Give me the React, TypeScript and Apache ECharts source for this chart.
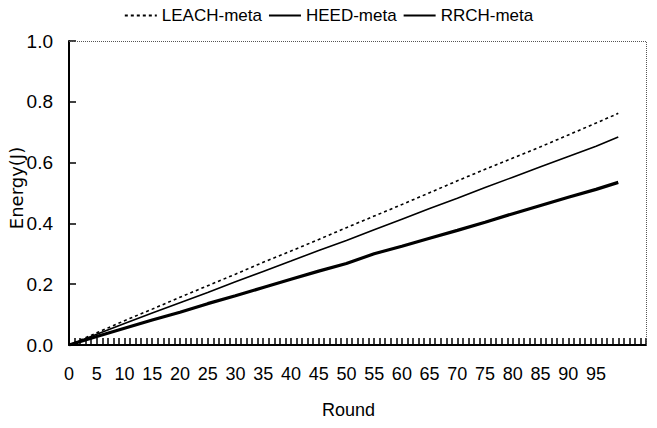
import React, { useEffect, useRef } from "react";
import * as echarts from "echarts";

const rounds = [0, 5, 10, 15, 20, 25, 30, 35, 40, 45, 50, 55, 60, 65, 70, 75, 80, 85, 90, 95, 99];
const leach = [0, 0.040, 0.080, 0.118, 0.157, 0.195, 0.233, 0.272, 0.309, 0.347, 0.386, 0.424, 0.462, 0.501, 0.540, 0.578, 0.615, 0.652, 0.691, 0.730, 0.762];
const heed = [0, 0.035, 0.071, 0.105, 0.139, 0.173, 0.208, 0.242, 0.276, 0.311, 0.344, 0.379, 0.414, 0.449, 0.483, 0.518, 0.552, 0.586, 0.620, 0.654, 0.684];
const rrch = [0, 0.028, 0.055, 0.082, 0.108, 0.136, 0.162, 0.189, 0.216, 0.243, 0.268, 0.300, 0.325, 0.351, 0.377, 0.404, 0.432, 0.459, 0.486, 0.512, 0.535];
const xTickLabels = [0, 5, 10, 15, 20, 25, 30, 35, 40, 45, 50, 55, 60, 65, 70, 75, 80, 85, 90, 95];
const yTicks = [0, 0.2, 0.4, 0.6, 0.8, 1.0];
const X_MAX = 104;
const Y_MAX = 1;

const FONT = "'Liberation Sans Narrow', 'Liberation Sans', Arial, sans-serif";

export default function App() {
  const ref = useRef<HTMLDivElement>(null);
  useEffect(() => {
    const chart = echarts.init(ref.current!, null, { renderer: "svg" });
    const pairs = (vals: number[]) => rounds.map((r, i) => [r, vals[i]]);
    chart.setOption({
      animation: false,
      legend: {
        top: 2,
        left: "center",
        itemWidth: 32,
        itemHeight: 14,
        itemGap: 6,
        itemStyle: { opacity: 0 },
        textStyle: { fontFamily: FONT, fontSize: 17, color: "#000" },
        data: ["LEACH-meta", "HEED-meta", "RRCH-meta"],
      },
      grid: { left: 69, right: 11, top: 41, bottom: 83 },
      graphic: [
        {
          type: "text",
          left: 322,
          top: 401,
          style: { text: "Round", font: `18px ${FONT}`, fill: "#000" },
        },
        {
          type: "text",
          x: 16,
          y: 188,
          rotation: Math.PI / 2,
          style: {
            text: "Energy(J)",
            font: "18px 'DejaVu Sans', sans-serif",
            fill: "#000",
            align: "center",
            verticalAlign: "middle",
          },
        },
      ],
      xAxis: {
        type: "value",
        min: 0,
        max: X_MAX,
        interval: 5,
        axisLine: { show: true, lineStyle: { color: "#000", width: 2 } },
        axisTick: { show: true, inside: true, length: 7, lineStyle: { color: "#000", width: 1.5 } },
        minorTick: { show: true, splitNumber: 5, length: 7, lineStyle: { color: "#000", width: 1.5 } },
        splitLine: { show: false },
        axisLabel: {
          margin: 20,
          fontFamily: FONT,
          fontSize: 18,
          color: "#000",
          customValues: xTickLabels,
        },
      },
      yAxis: {
        type: "value",
        min: 0,
        max: Y_MAX,
        interval: 0.2,
        axisLine: { show: true, lineStyle: { color: "#000", width: 2 } },
        axisTick: { show: true, inside: true, length: 7, lineStyle: { color: "#000", width: 1.5 } },
        splitLine: { show: false },
        axisLabel: {
          margin: 16,
          fontFamily: FONT,
          fontSize: 19,
          color: "#000",
          formatter: (v: number) => (yTicks.some((t) => Math.abs(t - v) < 1e-9) ? v.toFixed(1) : ""),
        },
      },
      series: [
        {
          name: "LEACH-meta",
          type: "line",
          data: pairs(leach),
          showSymbol: false,
          symbol: "none",
          lineStyle: { color: "#000", width: 1.6, type: [3, 3] },
          itemStyle: { color: "#000" },
          markLine: {
            silent: true,
            symbol: "none",
            label: { show: false },
            lineStyle: { color: "#555", width: 1, type: "dotted" },
            data: [{ yAxis: Y_MAX }, { xAxis: X_MAX }],
          },
        },
        {
          name: "HEED-meta",
          type: "line",
          data: pairs(heed),
          showSymbol: false,
          symbol: "none",
          lineStyle: { color: "#000", width: 1.6 },
          itemStyle: { color: "#000" },
        },
        {
          name: "RRCH-meta",
          type: "line",
          data: pairs(rrch),
          showSymbol: false,
          symbol: "none",
          lineStyle: { color: "#000", width: 3.2 },
          itemStyle: { color: "#000" },
        },
      ],
    });
    return () => chart.dispose();
  }, []);
  return <div ref={ref} style={{ width: 657, height: 428, position: "absolute", left: 0, top: 0 }} />;
}
